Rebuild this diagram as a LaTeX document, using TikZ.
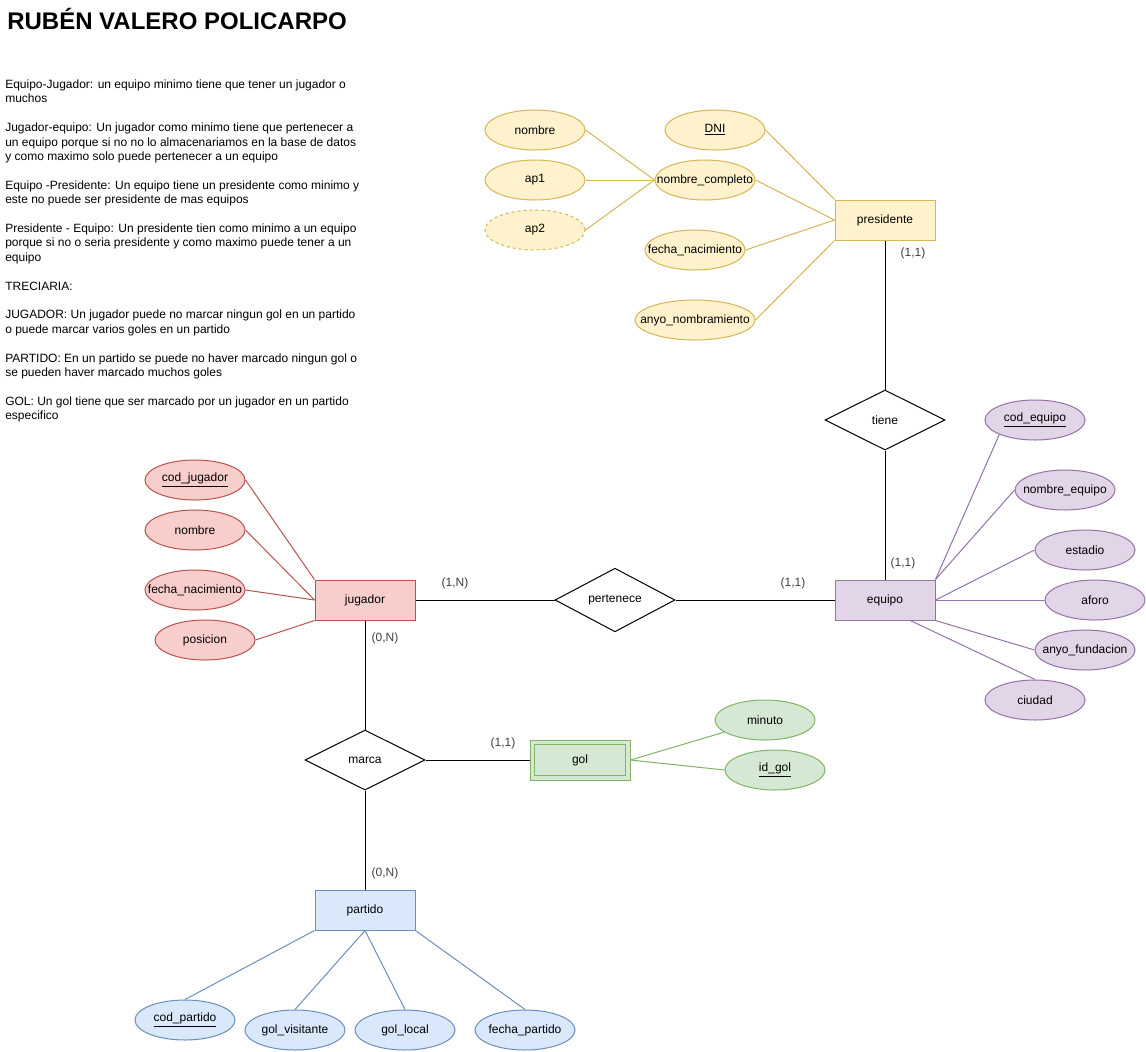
\documentclass[tikz,border=0pt]{standalone}
\usepackage{fontspec}
\setmainfont{Liberation Sans}
\usetikzlibrary{shapes.geometric,calc}

\definecolor{presF}{HTML}{FFF2CC}\definecolor{presL}{HTML}{D6B656}
\definecolor{jugF}{HTML}{F8CECC}\definecolor{jugL}{HTML}{B85450}
\definecolor{equF}{HTML}{E1D5E7}\definecolor{equL}{HTML}{9673A6}
\definecolor{golF}{HTML}{D5E8D4}\definecolor{golL}{HTML}{82B366}
\definecolor{parF}{HTML}{DAE8FC}\definecolor{parL}{HTML}{6C8EBF}

\begin{document}
\begin{tikzpicture}[
  x=0.75pt, y=-0.75pt,
  font=\fontsize{9}{10.8}\selectfont,
  entidad/.style={draw, rectangle, minimum width=75pt, minimum height=30pt,
                  inner sep=0pt, line width=0.75pt},
  atributo/.style={draw, ellipse, minimum width=75pt, minimum height=30pt,
                   inner sep=0pt, line width=0.75pt,
                   execute at begin node={\hbox to 0pt\bgroup\hss},
                   execute at end node={\hss\egroup}},
  relacion/.style={draw, diamond, minimum width=90pt, minimum height=45pt,
                   inner sep=0pt, line width=0.75pt},
  linea/.style={line width=0.75pt},
  card/.style={text=black!75, inner sep=0pt},
  amarillo/.style={draw=presL, fill=presF},
  rojo/.style={draw=jugL, fill=jugF},
  morado/.style={draw=equL, fill=equF},
  verde/.style={draw=golL, fill=golF},
  azul/.style={draw=parL, fill=parF}
]
  \fill[white] (0,0) rectangle (1146,1051);
  \useasboundingbox (0,0) rectangle (1146,1051);

  % Titulo y notas
  \node[anchor=base west, inner sep=0pt, font=\fontsize{18}{21}\selectfont\bfseries]
       (titulo) at (7,29) {RUBÉN VALERO POLICARPO};
  \node[anchor=north west, align=left, inner sep=0pt] (notas) at (5,79.5)
       {Equipo-Jugador: un equipo minimo tiene que tener un jugador o\\
        muchos\\[10.8pt]
        Jugador-equipo: Un jugador como minimo tiene que pertenecer a\\
        un equipo porque si no no lo almacenariamos en la base de datos\\
        y como maximo solo puede pertenecer a un equipo\\[10.8pt]
        Equipo -Presidente: Un equipo tiene un presidente como minimo y\\
        este no puede ser presidente de mas equipos\\[10.8pt]
        Presidente - Equipo: Un presidente tien como minimo a un equipo\\
        porque si no o seria presidente y como maximo puede tener a un\\
        equipo\\[10.8pt]
        TRECIARIA:\\[10.8pt]
        JUGADOR: Un jugador puede no marcar ningun gol en un partido\\
        o puede marcar varios goles en un partido\\[10.8pt]
        PARTIDO: En un partido se puede no haver marcado ningun gol o\\
        se pueden haver marcado muchos goles\\[10.8pt]
        GOL: Un gol tiene que ser marcado por un jugador en un partido\\
        especifico};

  % Presidente
  \node[entidad, amarillo] (presidente) at (885,220) {presidente};
  \node[atributo, amarillo] (pnombre) at (535,130) {nombre};
  \node[atributo, amarillo] (pap1) at (535,180) {ap1};
  \node[atributo, amarillo, dash pattern=on 2.25pt off 2.25pt] (pap2) at (535,230) {ap2};
  \node[atributo, amarillo] (dni) at (715,130) {\underline{DNI}};
  \node[atributo, amarillo] (pcompleto) at (705,180) {nombre\_completo};
  \node[atributo, amarillo] (pfecha) at (695,250) {fecha\_nacimiento};
  \node[atributo, amarillo, minimum width=90pt] (panyo) at (695,320) {anyo\_nombramiento};

  \draw[linea, presL] (pnombre.east) -- (pcompleto.west);
  \draw[linea, presL] (pap1.east) -- (pcompleto.west);
  \draw[linea, presL] (pap2.east) -- (pcompleto.west);
  \draw[linea, presL] (dni.east) -- (presidente.north west);
  \draw[linea, presL] (pcompleto.east) -- (presidente.west);
  \draw[linea, presL] (pfecha.east) -- (presidente.west);
  \draw[linea, presL] (panyo.east) -- (presidente.south west);

  % Equipo
  \node[relacion] (tiene) at (885,420) {tiene};
  \node[entidad, morado] (equipo) at (885,600) {equipo};
  \node[atributo, morado] (ecod) at (1035,420) {\underline{cod\_equipo}};
  \node[atributo, morado] (enombre) at (1065,490) {nombre\_equipo};
  \node[atributo, morado] (eestadio) at (1085,550) {estadio};
  \node[atributo, morado] (eaforo) at (1095,600) {aforo};
  \node[atributo, morado] (eanyo) at (1085,650) {anyo\_fundacion};
  \node[atributo, morado] (eciudad) at (1035,700) {ciudad};

  \draw[linea] (presidente) -- (tiene);
  \draw[linea] (tiene) -- (equipo);
  \draw[linea, equL] (ecod.south west) -- (equipo.north east);
  \draw[linea, equL] (enombre.west) -- (equipo.north east);
  \draw[linea, equL] (eestadio.west) -- (equipo.east);
  \draw[linea, equL] (eaforo.west) -- (equipo.east);
  \draw[linea, equL] (eanyo.west) -- (equipo.south east);
  \draw[linea, equL] (eciudad.north) -- ($(equipo.south)!0.5!(equipo.south east)$);

  % Jugador
  \node[entidad, rojo] (jugador) at (365,600) {jugador};
  \node[atributo, rojo] (jcod) at (195,480) {\underline{cod\_jugador}};
  \node[atributo, rojo] (jnombre) at (195,530) {nombre};
  \node[atributo, rojo] (jfecha) at (195,590) {fecha\_nacimiento};
  \node[atributo, rojo] (jposicion) at (205,640) {posicion};

  \draw[linea, jugL] (jcod.east) -- (jugador.north west);
  \draw[linea, jugL] (jnombre.east) -- (jugador.west);
  \draw[linea, jugL] (jfecha.east) -- (jugador.west);
  \draw[linea, jugL] (jposicion.east) -- (jugador.south west);

  \node[relacion] (pertenece) at (615,600) {pertenece};
  \draw[linea] (jugador) -- (pertenece);
  \draw[linea] (pertenece) -- (equipo);

  % Gol (ternaria)
  \node[relacion] (marca) at (365,760) {marca};
  \node[entidad, verde] (gol) at (580,760) {gol};
  \draw[linea, golL] ([shift={(3.75pt,-3.75pt)}]gol.north west)
       rectangle ([shift={(-3.75pt,3.75pt)}]gol.south east);
  \node[atributo, verde] (gminuto) at (765,720) {minuto};
  \node[atributo, verde] (gid) at (775,770) {\underline{id\_gol}};

  \draw[linea] (jugador) -- (marca);
  \draw[linea] (marca) -- (gol);
  \draw[linea, golL] (gol.east) -- (gminuto);
  \draw[linea, golL] (gol.east) -- (gid.west);

  % Partido
  \node[entidad, azul] (partido) at (365,910) {partido};
  \node[atributo, azul] (pacod) at (185,1020) {\underline{cod\_partido}};
  \node[atributo, azul] (pavis) at (295,1030) {gol\_visitante};
  \node[atributo, azul] (paloc) at (405,1030) {gol\_local};
  \node[atributo, azul] (pafecha) at (525,1030) {fecha\_partido};

  \draw[linea] (marca) -- (partido);
  \draw[linea, parL] (partido.south west) -- (pacod.north);
  \draw[linea, parL] (partido.south) -- (pavis.north);
  \draw[linea, parL] (partido.south) -- (paloc.north);
  \draw[linea, parL] (partido.south east) -- (pafecha.north);

  % Cardinalidades
  \node[card] (c1) at (913,253) {(1,1)};
  \node[card] (c2) at (903,563) {(1,1)};
  \node[card] (c3) at (455,583) {(1,N)};
  \node[card] (c4) at (793,583) {(1,1)};
  \node[card] (c5) at (385,638) {(0,N)};
  \node[card] (c6) at (503,743) {(1,1)};
  \node[card] (c7) at (385,873) {(0,N)};
\end{tikzpicture}
\end{document}
